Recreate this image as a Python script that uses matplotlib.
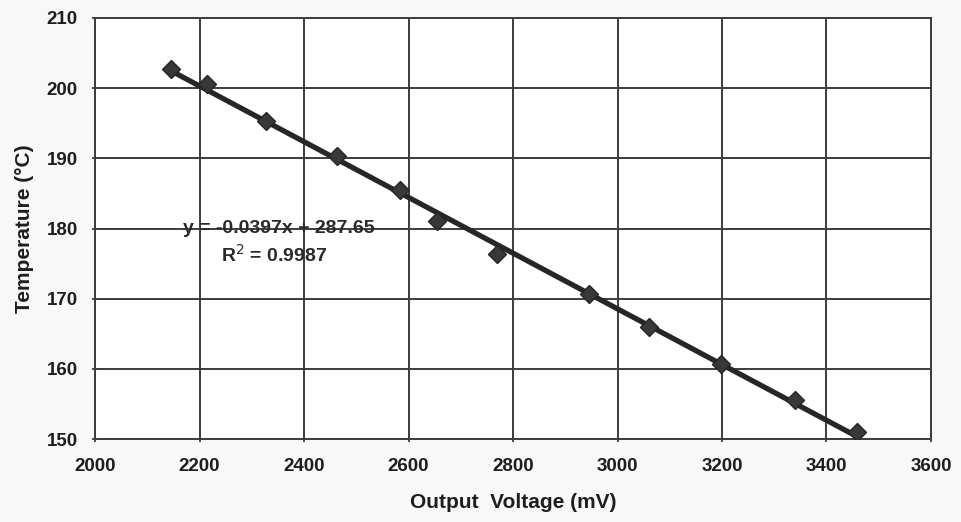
import matplotlib
matplotlib.use("Agg")
import matplotlib.pyplot as plt
import numpy as np

# Data
voltage_mv = [2145, 2214, 2327, 2464, 2584, 2654, 2769, 2946, 3061, 3199, 3340, 3459]
temperature_c = [202.8, 200.6, 195.3, 190.3, 185.5, 181.1, 176.4, 170.7, 165.9, 160.7, 155.5, 151.0]
trend_slope = -0.0397
trend_intercept = 287.65
r_squared = 0.9987
x_ticks = [2000, 2200, 2400, 2600, 2800, 3000, 3200, 3400, 3600]
y_ticks = [150, 160, 170, 180, 190, 200, 210]

plt.rcParams['font.family'] = ['Liberation Sans', 'DejaVu Sans']

fig = plt.figure(figsize=(9.62, 5.22), dpi=100, facecolor='#f8f8f8')
ax = fig.add_axes([95 / 962, 1 - 439 / 522, 836 / 962, 421 / 522])
ax.set_facecolor('white')

xs = np.array([min(voltage_mv), max(voltage_mv)])
ax.plot(xs, trend_slope * xs + trend_intercept, color='#262626', lw=3.8,
        solid_capstyle='butt', zorder=3)
ax.plot(voltage_mv, temperature_c, linestyle='none', marker='D', ms=9.5,
        color='#383838', mec='#262626', zorder=4)

ax.set_xlim(2000, 3600)
ax.set_ylim(150, 210)
ax.set_xticks(x_ticks)
ax.set_yticks(y_ticks)
ax.grid(True, color='#3c3c3c', lw=1.4, zorder=1)
ax.set_axisbelow(True)
for s in ax.spines.values():
    s.set_color('#3c3c3c')
    s.set_linewidth(1.4)
ax.tick_params(axis='both', colors='#3c3c3c', width=1.3, length=5, direction='inout',
               labelcolor='#1e1e1e', labelsize=13.5)
for lab in ax.get_xticklabels() + ax.get_yticklabels():
    lab.set_fontweight('bold')
ax.tick_params(axis='x', pad=11)
ax.tick_params(axis='y', pad=10)

ax.set_xlabel('Output  Voltage (mV)', fontsize=15, fontweight='bold', color='#1e1e1e', labelpad=13)
ax.set_ylabel('Temperature (°C)', fontsize=15, fontweight='bold', color='#1e1e1e', labelpad=9)

ax.text(0.220, 0.499, f'y = {trend_slope}x + {trend_intercept}', transform=ax.transAxes,
        ha='center', va='center', fontsize=14, fontweight='bold', color='#2a2a2a')
ax.text(0.215, 0.438, f'R$^2$ = {r_squared}', transform=ax.transAxes,
        ha='center', va='center', fontsize=14, fontweight='bold', color='#2a2a2a')

fig.savefig('out.png', dpi=100, facecolor=fig.get_facecolor())
